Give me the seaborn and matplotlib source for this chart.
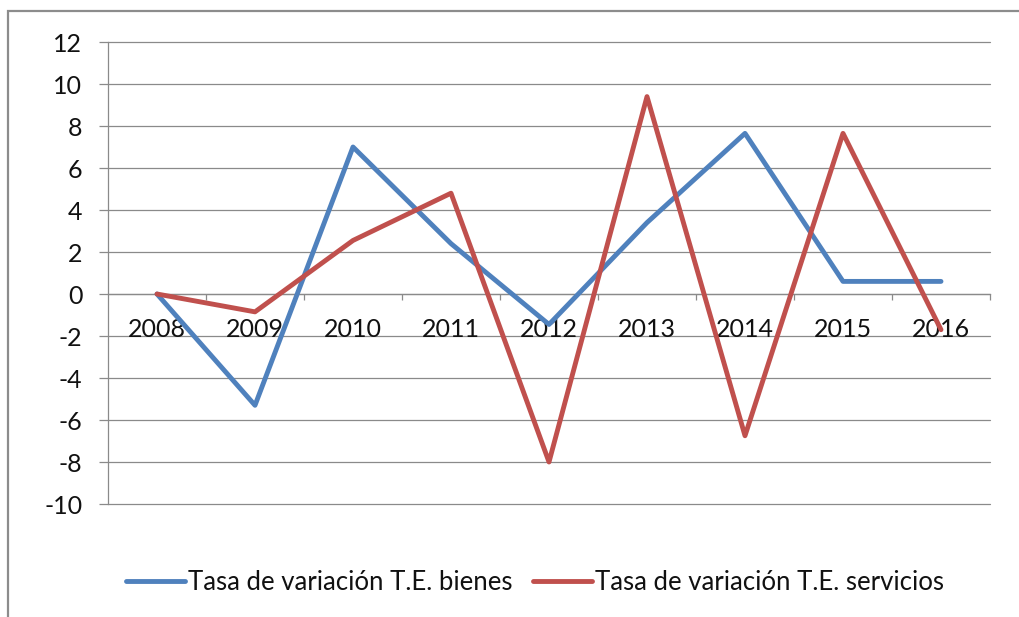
import matplotlib
matplotlib.use("Agg")
import matplotlib.pyplot as plt
import matplotlib.patches as mpatches
from matplotlib.ticker import FixedLocator, MultipleLocator
import seaborn as sns
import pandas as pd
import numpy as np

years = ["2008", "2009", "2010", "2011", "2012", "2013", "2014", "2015", "2016"]
bienes = [0.0, -5.3, 7.0, 2.4, -1.45, 3.4, 7.65, 0.6, 0.6]
servicios = [0.0, -0.85, 2.55, 4.8, -8.0, 9.4, -6.75, 7.65, -1.7]
label_bienes = "Tasa de variación T.E. bienes"
label_servicios = "Tasa de variación T.E. servicios"

sns.set_style("white")
plt.rcParams["font.family"] = ["Lato", "DejaVu Sans"]
plt.rcParams["axes.unicode_minus"] = False

pos = list(range(len(years)))
df = pd.DataFrame({
    "pos": pos * 2,
    "valor": bienes + servicios,
    "serie": [label_bienes] * len(years) + [label_servicios] * len(years),
})

W, H = 1020, 617
fig = plt.figure(figsize=(W / 100, H / 100), dpi=100)
ax = fig.add_axes([108 / W, 1 - 504 / H, (990 - 108) / W, (504 - 42) / H])

grid_c = "#8a8a8a"
txt_c = "#111111"
lw = 3.5

for yv in range(-10, 13, 2):
    ax.axhline(yv, color=grid_c, lw=0.9, zorder=0, clip_on=False)

sns.lineplot(data=df, x="pos", y="valor", hue="serie",
             palette=["#4F81BD", "#C0504D"], linewidth=lw, ax=ax,
             legend=False, sort=False, zorder=3)
for ln in ax.get_lines():
    ln.set_solid_joinstyle("round")

ax.set_xlim(-0.5, len(years) - 0.5)
ax.set_ylim(-10, 12)
ax.yaxis.set_major_locator(MultipleLocator(2))
ax.tick_params(axis="y", length=6.5, width=0.9, color=grid_c, pad=12,
               labelsize=18, labelcolor=txt_c, left=True)

# x axis at zero, boundary ticks and category labels
ax.spines["bottom"].set_position(("data", 0))
ax.xaxis.set_major_locator(FixedLocator([p + 0.5 for p in pos]))
ax.xaxis.set_minor_locator(FixedLocator(pos))
ax.set_xticklabels([], minor=False)
ax.set_xticklabels(years, minor=True)
ax.tick_params(axis="x", which="major", length=4.5, width=0.9, color=grid_c,
               direction="out", bottom=True)
ax.tick_params(axis="x", which="minor", length=0, pad=17, labelsize=18,
               labelcolor=txt_c, bottom=True)

for s in ["top", "right"]:
    ax.spines[s].set_visible(False)
for s in ["left", "bottom"]:
    ax.spines[s].set_color(grid_c)
    ax.spines[s].set_linewidth(0.9)
ax.set_xlabel("")
ax.set_ylabel("")

handles = [plt.Line2D([], [], color="#4F81BD", lw=lw),
           plt.Line2D([], [], color="#C0504D", lw=lw)]
fig.legend(handles, [label_bienes, label_servicios], loc="center",
           bbox_to_anchor=(535 / W, 1 - 582 / H), ncol=2, frameon=False,
           fontsize=18.5, handlelength=2.3, handletextpad=0.1,
           columnspacing=0.8, labelcolor=txt_c)

fig.patches.append(mpatches.Rectangle((8 / W, -0.1), 1.2, 1.1 - 11 / H,
                                      transform=fig.transFigure, fill=False,
                                      edgecolor="#8c8c8c", lw=1.6))

fig.savefig("out.png", dpi=100)
